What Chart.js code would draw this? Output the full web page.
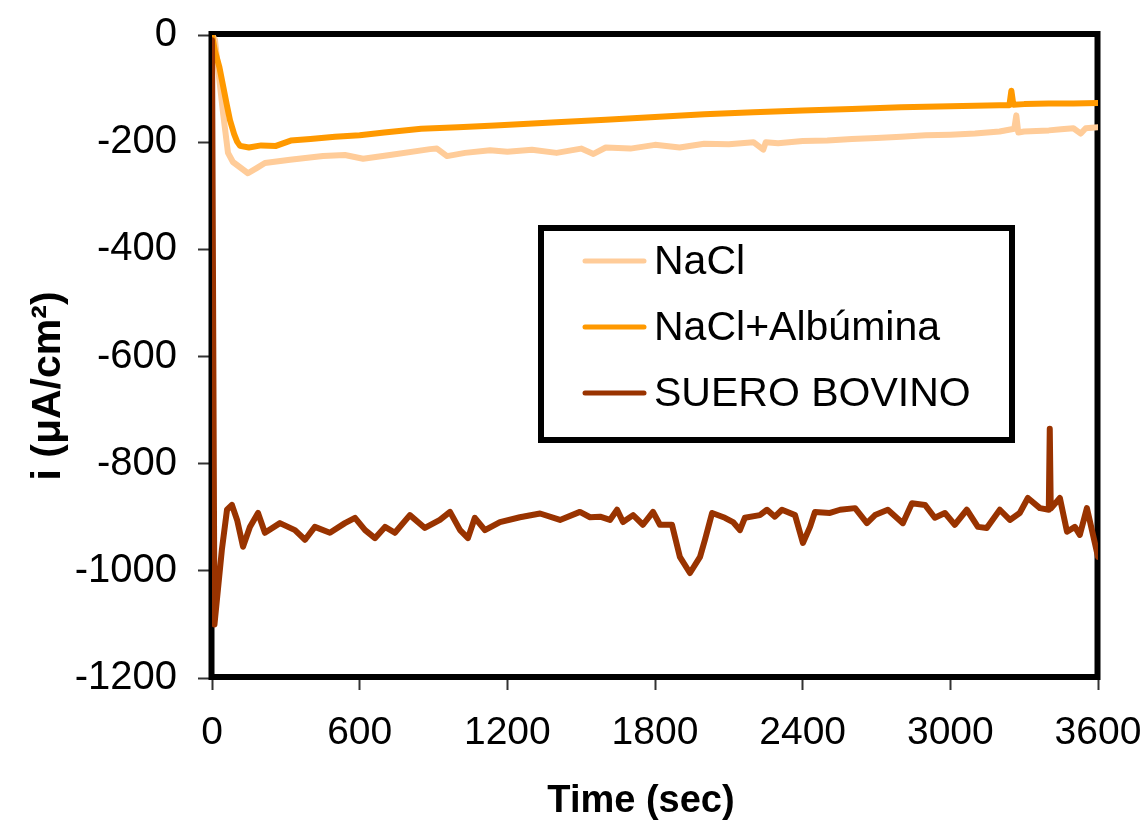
<!DOCTYPE html>
<html>
<head>
<meta charset="utf-8">
<script src="https://cdn.jsdelivr.net/npm/chart.js@4.4.1/dist/chart.umd.min.js"></script>
<style>
  body { margin: 0; background: #fff; }
  #wrap { width: 1143px; height: 820px; }
</style>
</head>
<body>
<div id="wrap"><canvas id="chart"></canvas></div>
<script>
const seriesLabels = ['NaCl', 'NaCl+Albúmina', 'SUERO BOVINO'];
const seriesColors = ['#FFCC99', '#FF9900', '#993300'];

const xTicks = [0, 600, 1200, 1800, 2400, 3000, 3600];
const yTicks = [0, -200, -400, -600, -800, -1000, -1200];

const naclTime = [0, 12, 45, 65, 85, 146, 183, 215, 317, 451, 540, 614, 723, 886, 914, 955, 1028, 1130,
  1200, 1300, 1400, 1500, 1550, 1600, 1700, 1800, 1900, 2000, 2100, 2200, 2240, 2250, 2300, 2400,
  2500, 2600, 2700, 2800, 2900, 3000, 3100, 3200, 3260, 3268, 3276, 3300, 3400, 3450, 3500, 3530,
  3550, 3600];
const naclCurrent = [0, -9, -146, -220, -237, -258, -248, -239, -233, -226, -224, -231, -224, -213, -212, -226, -220, -215,
  -218, -214, -220, -212, -222, -210, -212, -205, -210, -203, -204, -200, -214, -200, -202, -198,
  -197, -194, -192, -190, -187, -186, -184, -180, -175, -150, -182, -180, -178, -176, -174, -184,
  -174, -172];

const albuminaTime = [0, 12, 30, 45, 60, 73, 90, 102, 114, 150, 200, 260, 320, 400, 500, 600, 700, 850, 1000, 1150,
  1400, 1600, 1800, 2000, 2200, 2400, 2600, 2800, 3000, 3200, 3240, 3248, 3256, 3300, 3400, 3500, 3600];
const albuminaCurrent = [0, -30, -60, -95, -130, -159, -185, -199, -207, -210, -206, -207, -197, -194, -190, -187, -182, -175, -172, -169,
  -163, -158, -153, -148, -144, -141, -138, -135, -133, -131, -131, -104, -130, -129, -128, -128, -127];

const sueroTime = [0, 10, 40, 61, 81, 102, 126, 154, 187, 215, 276, 337, 378, 418, 479, 540, 581, 622,
  662, 703, 743, 804, 865, 926, 967, 1008, 1040, 1068, 1109, 1170, 1251, 1333, 1414, 1495, 1536, 1577,
  1617, 1646, 1670, 1711, 1751, 1792, 1820, 1869, 1901, 1942, 1983, 2003, 2032, 2084, 2117, 2145,
  2165, 2226, 2255, 2287, 2316, 2369, 2401, 2430, 2450, 2511, 2552, 2613, 2661, 2694, 2746, 2807,
  2844, 2897, 2937, 2978, 3018, 3067, 3112, 3148, 3201, 3242, 3282, 3315, 3364, 3400, 3404, 3408,
  3445, 3474, 3506, 3526, 3555, 3600];
const sueroCurrent = [-10, -1100, -961, -886, -877, -905, -955, -918, -892, -929, -911, -924, -942, -918, -929, -911, -901, -924,
  -939, -918, -929, -896, -920, -905, -890, -924, -939, -901, -924, -909, -900, -893, -905, -890, -900, -899,
  -905, -886, -909, -896, -914, -890, -914, -914, -974, -1004, -974, -942, -892, -901, -909, -924,
  -901, -896, -886, -899, -886, -896, -948, -918, -890, -892, -886, -883, -911, -896, -886, -911,
  -874, -877, -901, -892, -914, -886, -918, -920, -886, -905, -892, -864, -883, -886, -735, -884,
  -864, -927, -918, -933, -883, -974];

const toPoints = (ts, vs) => ts.map((t, i) => ({ x: t, y: vs[i] }));

Chart.defaults.font.family = "'Liberation Sans', Arial, sans-serif";
Chart.defaults.color = '#000';

// black frame round the plot area
const framePlugin = {
  id: 'frame',
  beforeDatasetsDraw(chart) {
    const { ctx, chartArea: a } = chart;
    ctx.save();
    ctx.strokeStyle = '#000';
    ctx.lineWidth = 6;
    ctx.strokeRect(a.left - 0.5, a.top - 1, a.right - a.left, a.bottom - a.top);
    ctx.restore();
  }
};

// boxed legend inside the plot + axis titles
const extrasPlugin = {
  id: 'extras',
  afterDraw(chart) {
    const ctx = chart.ctx;
    ctx.save();
    ctx.strokeStyle = '#000';
    ctx.lineWidth = 6;
    ctx.strokeRect(541, 228, 471, 212);
    ctx.font = "41px 'Liberation Sans', Arial, sans-serif";
    ctx.textBaseline = 'middle';
    ctx.lineCap = 'round';
    chart.data.datasets.forEach((ds, i) => {
      const y = 261 + i * 66;
      ctx.strokeStyle = ds.borderColor;
      ctx.lineWidth = 5;
      ctx.beginPath();
      ctx.moveTo(585, y);
      ctx.lineTo(644, y);
      ctx.stroke();
      ctx.fillStyle = '#000';
      ctx.fillText(ds.label, 654, y + 2);
    });

    ctx.fillStyle = '#000';
    ctx.font = "bold 38px 'Liberation Sans', Arial, sans-serif";
    ctx.textAlign = 'center';
    ctx.textBaseline = 'alphabetic';
    ctx.fillText('Time (sec)', 641, 812);

    ctx.translate(60, 386);
    ctx.rotate(-Math.PI / 2);
    ctx.font = "bold 41px 'Liberation Sans', Arial, sans-serif";
    ctx.fillText('i (μA/cm²)', 0, 0);
    ctx.restore();
  }
};

new Chart(document.getElementById('chart'), {
  type: 'line',
  data: {
    datasets: [
      { label: seriesLabels[0], data: toPoints(naclTime, naclCurrent), borderColor: seriesColors[0], order: 3 },
      { label: seriesLabels[1], data: toPoints(albuminaTime, albuminaCurrent), borderColor: seriesColors[1], order: 2 },
      { label: seriesLabels[2], data: toPoints(sueroTime, sueroCurrent), borderColor: seriesColors[2], order: 1 }
    ].map(ds => Object.assign(ds, { borderWidth: 6, pointRadius: 0, tension: 0, fill: false,
                                     borderJoinStyle: 'round', borderCapStyle: 'round' }))
  },
  options: {
    responsive: true,
    maintainAspectRatio: false,
    animation: false,
    layout: { padding: { top: 35, right: 45, left: 0, bottom: 0 } },
    plugins: { legend: { display: false }, tooltip: { enabled: false } },
    scales: {
      x: {
        type: 'linear',
        min: 0,
        max: 3600,
        afterBuildTicks: s => { s.ticks = xTicks.map(v => ({ value: v })); },
        afterFit: s => { s.height = 142; s.paddingLeft = 0; s.paddingRight = 0; },
        grid: { drawOnChartArea: false, tickLength: 12, tickWidth: 2, tickColor: '#333' },
        border: { display: false },
        ticks: { font: { size: 39 }, padding: 20, maxRotation: 0, callback: v => String(v) }
      },
      y: {
        min: -1200,
        max: 0,
        afterBuildTicks: s => { s.ticks = yTicks.map(v => ({ value: v })); },
        afterFit: s => { s.width = 212; s.paddingTop = 0; s.paddingBottom = 0; },
        grid: { drawOnChartArea: false, tickLength: 14, tickWidth: 2, tickColor: '#333' },
        border: { display: false },
        ticks: { font: { size: 40 }, padding: 21, callback: v => String(v) }
      }
    }
  },
  plugins: [framePlugin, extrasPlugin]
});
</script>
</body>
</html>
